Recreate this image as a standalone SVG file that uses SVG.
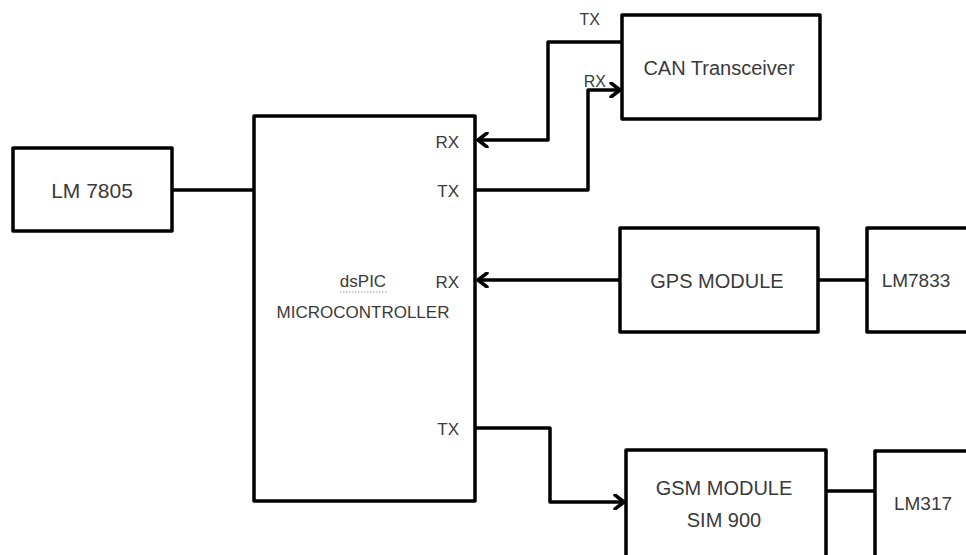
<svg xmlns="http://www.w3.org/2000/svg" width="966" height="555" viewBox="0 0 966 555">
<defs>
<marker id="arr" markerWidth="14" markerHeight="16" refX="12" refY="8" orient="auto" markerUnits="userSpaceOnUse">
<polyline points="3,1 12,8 3,15" fill="none" stroke="#000" stroke-width="3.5" stroke-linecap="round" stroke-linejoin="round"/>
</marker>
</defs>
<style>
.box{fill:#fff;stroke:#000;stroke-width:3.5;stroke-linejoin:round}
.ln{fill:none;stroke:#000;stroke-width:3.5;stroke-linejoin:round}
.t{font-family:"Liberation Sans",Arial,sans-serif;fill:#3a3a3a;text-anchor:middle}
.big{font-size:20px}
.sm{font-size:17px}
.pin{font-family:"Liberation Sans",Arial,sans-serif;fill:#3a3a3a;font-size:17px;text-anchor:end}
</style>
<rect width="966" height="555" fill="#fff"/>
<g id="connectors">
<line class="ln" x1="172" y1="190" x2="254" y2="190"/>
<polyline class="ln" points="622,42 548,42 548,140 478,140" marker-end="url(#arr)"/>
<polyline class="ln" points="475,190 588,190 588,90 620,90" marker-end="url(#arr)"/>
<line class="ln" x1="620" y1="280" x2="478" y2="280" marker-end="url(#arr)"/>
<line class="ln" x1="818" y1="280" x2="867" y2="280"/>
<polyline class="ln" points="475,428 550,428 550,502 624,502" marker-end="url(#arr)"/>
<line class="ln" x1="826" y1="491" x2="875" y2="491"/>
<text class="pin" x="600" y="25" style="font-size:16px">TX</text>
<text class="pin" x="606" y="87" style="font-size:16px">RX</text>
</g>
<g id="lm7805">
<rect class="box" x="13" y="148" width="159" height="83"/>
<text class="t big" x="92" y="198" style="font-size:21px">LM 7805</text>
</g>
<g id="dspic">
<rect class="box" x="254" y="116" width="221" height="385"/>
<text class="pin" x="459" y="148">RX</text>
<text class="pin" x="459" y="197">TX</text>
<text class="pin" x="459" y="288">RX</text>
<text class="pin" x="459" y="435">TX</text>
<text class="t sm" x="363" y="287">dsPIC</text>
<line x1="340" y1="292" x2="387" y2="292" stroke="#999" stroke-width="1" stroke-dasharray="1.5,1.5"/>
<text class="t sm" x="363" y="318">MICROCONTROLLER</text>
</g>
<g id="can">
<rect class="box" x="622" y="15" width="198" height="104"/>
<text class="t big" x="719" y="75">CAN Transceiver</text>
</g>
<g id="gps">
<rect class="box" x="620" y="228" width="198" height="104"/>
<text class="t big" x="717" y="288">GPS MODULE</text>
</g>
<g id="lm7833">
<rect class="box" x="867" y="228" width="102" height="104"/>
<text class="t big" x="916" y="287" style="font-size:19px">LM7833</text>
</g>
<g id="gsm">
<rect class="box" x="626" y="450" width="200" height="110"/>
<text class="t big" x="724" y="495">GSM MODULE</text>
<text class="t big" x="724" y="527">SIM 900</text>
</g>
<g id="lm317">
<rect class="box" x="875" y="451" width="100" height="110"/>
<text class="t big" x="923" y="510" style="font-size:19px">LM317</text>
</g>
</svg>
